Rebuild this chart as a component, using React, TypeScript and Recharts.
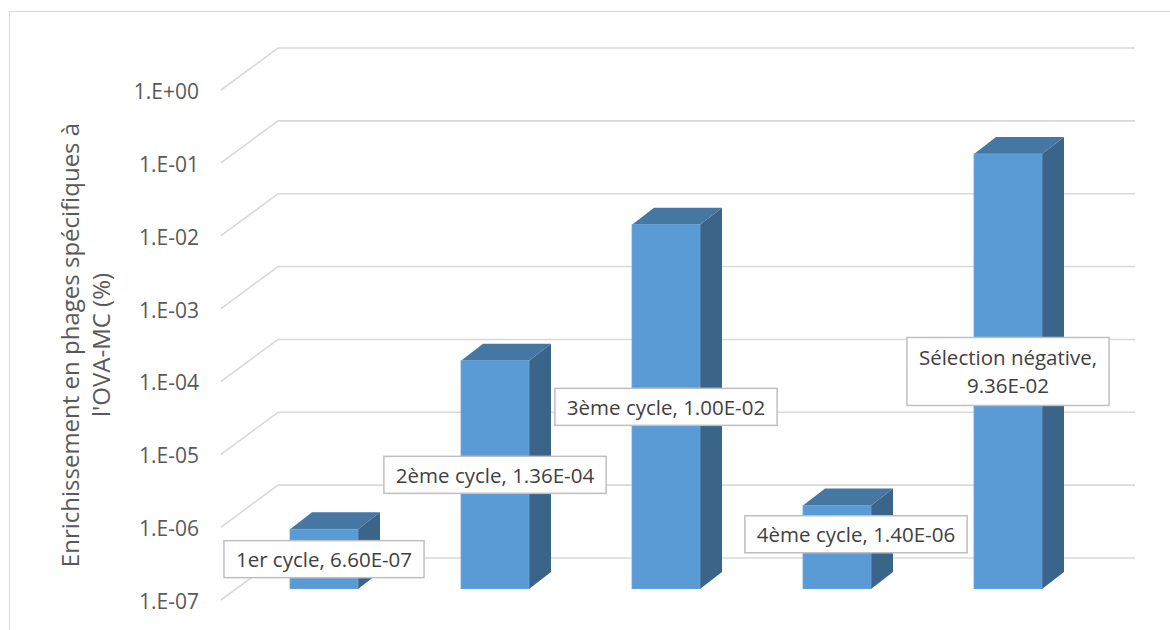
import React from 'react';
import { BarChart, Bar, XAxis, YAxis, CartesianGrid, LabelList } from 'recharts';

// ---------- data ----------
const categories = ['1er cycle', '2ème cycle', '3ème cycle', '4ème cycle', 'Sélection négative'];
const enrichment = [6.6e-7, 1.36e-4, 1.0e-2, 1.4e-6, 9.36e-2];
const yTicks = [1e-7, 1e-6, 1e-5, 1e-4, 1e-3, 1e-2, 1e-1, 1];
const axisTitleLines = ['Enrichissement en phages spécifiques à', "l'OVA-MC (%)"];

// ---------- layout / style ----------
const FONT = "'Open Sans', sans-serif";
const DEPTH_X = 22;
const DEPTH_Y = 17;
const labelShift: [number, number][] = [[0, 0], [0, 0], [0, 0], [19, -13], [0, 0]];
const labelWrap = [false, false, false, false, true];

const sci = (v: number) => {
  const [m, e] = v.toExponential(2).split('e');
  const n = parseInt(e, 10);
  return `${m}E${n < 0 ? '-' : '+'}${String(Math.abs(n)).padStart(2, '0')}`;
};
const tickFmt = (v: number) => {
  const n = Math.round(Math.log10(v));
  return `1.E${n < 0 ? '-' : '+'}${String(Math.abs(n)).padStart(2, '0')}`;
};

const data = categories.map((c, i) => ({ name: c, value: enrichment[i], label: `${c}, ${sci(enrichment[i])}` }));

let ctx: CanvasRenderingContext2D | null = null;
const measure = (s: string, size: number) => {
  if (!ctx && typeof document !== 'undefined') {
    ctx = document.createElement('canvas').getContext('2d');
  }
  if (!ctx) return s.length * size * 0.55;
  ctx.font = `${size}px 'Open Sans'`;
  return ctx.measureText(s).width;
};

const Bar3D = (p: any) => {
  const { x, y, width: w, height: h } = p;
  if (h == null || isNaN(h)) return null;
  return (
    <g>
      <polygon
        points={`${x + w},${y} ${x + w + DEPTH_X},${y - DEPTH_Y} ${x + w + DEPTH_X},${y + h - DEPTH_Y} ${x + w},${y + h}`}
        fill="#3b6489"
      />
      <polygon
        points={`${x},${y} ${x + DEPTH_X},${y - DEPTH_Y} ${x + w + DEPTH_X},${y - DEPTH_Y} ${x + w},${y}`}
        fill="#4677a3"
      />
      <rect x={x} y={y} width={w} height={h} fill="#5b9bd5" stroke="#6aa5db" strokeWidth={0.8} />
    </g>
  );
};

const DataLabel = (p: any) => {
  const { x, y, width, height, value } = p;
  let index = p.index;
  if (index == null) index = categories.findIndex((c) => String(value).startsWith(c));
  const [sx, sy] = labelShift[index] || [0, 0];
  const cx = x + width / 2 + sx;
  const cy = y + height / 2 + sy;
  const size = 20.5;
  const lines = labelWrap[index]
    ? [`${categories[index]},`, sci(enrichment[index])]
    : [String(value)];
  const tw = Math.max(...lines.map((l) => measure(l, size)));
  const bw = tw + 24;
  const lh = 28;
  const bh = lines.length === 1 ? 37 : 68;
  return (
    <g>
      <rect x={cx - bw / 2} y={cy - bh / 2} width={bw} height={bh} fill="#ffffff" stroke="#bfbfbf" strokeWidth={1.5} />
      {lines.map((l, i) => (
        <text
          key={i}
          x={cx}
          y={cy + (i - (lines.length - 1) / 2) * lh}
          textAnchor="middle"
          dominantBaseline="central"
          fontSize={size}
          fontFamily={FONT}
          fill="#404040"
        >
          {l}
        </text>
      ))}
    </g>
  );
};

const YTick = (p: any) => {
  const { y, payload } = p;
  return (
    <text x={199} y={y + 12} textAnchor="end" dominantBaseline="central" fontSize={21} fontFamily={FONT} fill="#595959">
      {tickFmt(payload.value)}
    </text>
  );
};

const gridLine = (p: any) => {
  const { x1, x2, y1, index } = p;
  const d = `M${x1 - 17},${y1 + 11} L${x1 + 40},${y1 - 31} L${x2 + 42},${y1 - 31}`;
  return <path key={`grid-${index}-${y1}`} d={d} stroke="#d9d9d9" strokeWidth={1.6} fill="none" />;
};

const AxisTitle = () => (
  <g transform="translate(85, 345) rotate(-90)">
    {axisTitleLines.map((l, i) => (
      <text
        key={i}
        x={0}
        y={i === 0 ? -16 : 15}
        textAnchor="middle"
        dominantBaseline="central"
        fontSize={24}
        fontFamily={FONT}
        fill="#595959"
      >
        {l}
      </text>
    ))}
  </g>
);

export default function App() {
  return (
    <div style={{ position: 'absolute', left: 0, top: 0, width: 1170, height: 630, background: '#ffffff', overflow: 'hidden' }}>
      <div
        style={{
          position: 'absolute',
          left: 9,
          top: 11,
          width: 1200,
          height: 700,
          borderTop: '1.5px solid #d9d9d9',
          borderLeft: '1.5px solid #d9d9d9',
        }}
      />
      <div style={{ position: 'absolute', left: 0, top: 0 }}>
        <BarChart width={1170} height={630} data={data} margin={{ top: 79, right: 77, bottom: 41, left: 178 }} barCategoryGap={0}>
          <CartesianGrid vertical={false} horizontal={gridLine} />
          <XAxis dataKey="name" hide />
          <YAxis
            scale="log"
            type="number"
            domain={[1e-7, 1]}
            ticks={yTicks}
            interval={0}
            allowDataOverflow
            axisLine={false}
            tickLine={false}
            width={60}
            tick={<YTick />}
            label={{ content: () => <AxisTitle /> }}
          />
          <Bar dataKey="value" barSize={68} isAnimationActive={false} shape={(p: any) => <Bar3D {...p} />}>
            <LabelList dataKey="label" content={(p: any) => <DataLabel {...p} />} />
          </Bar>
        </BarChart>
      </div>
    </div>
  );
}
